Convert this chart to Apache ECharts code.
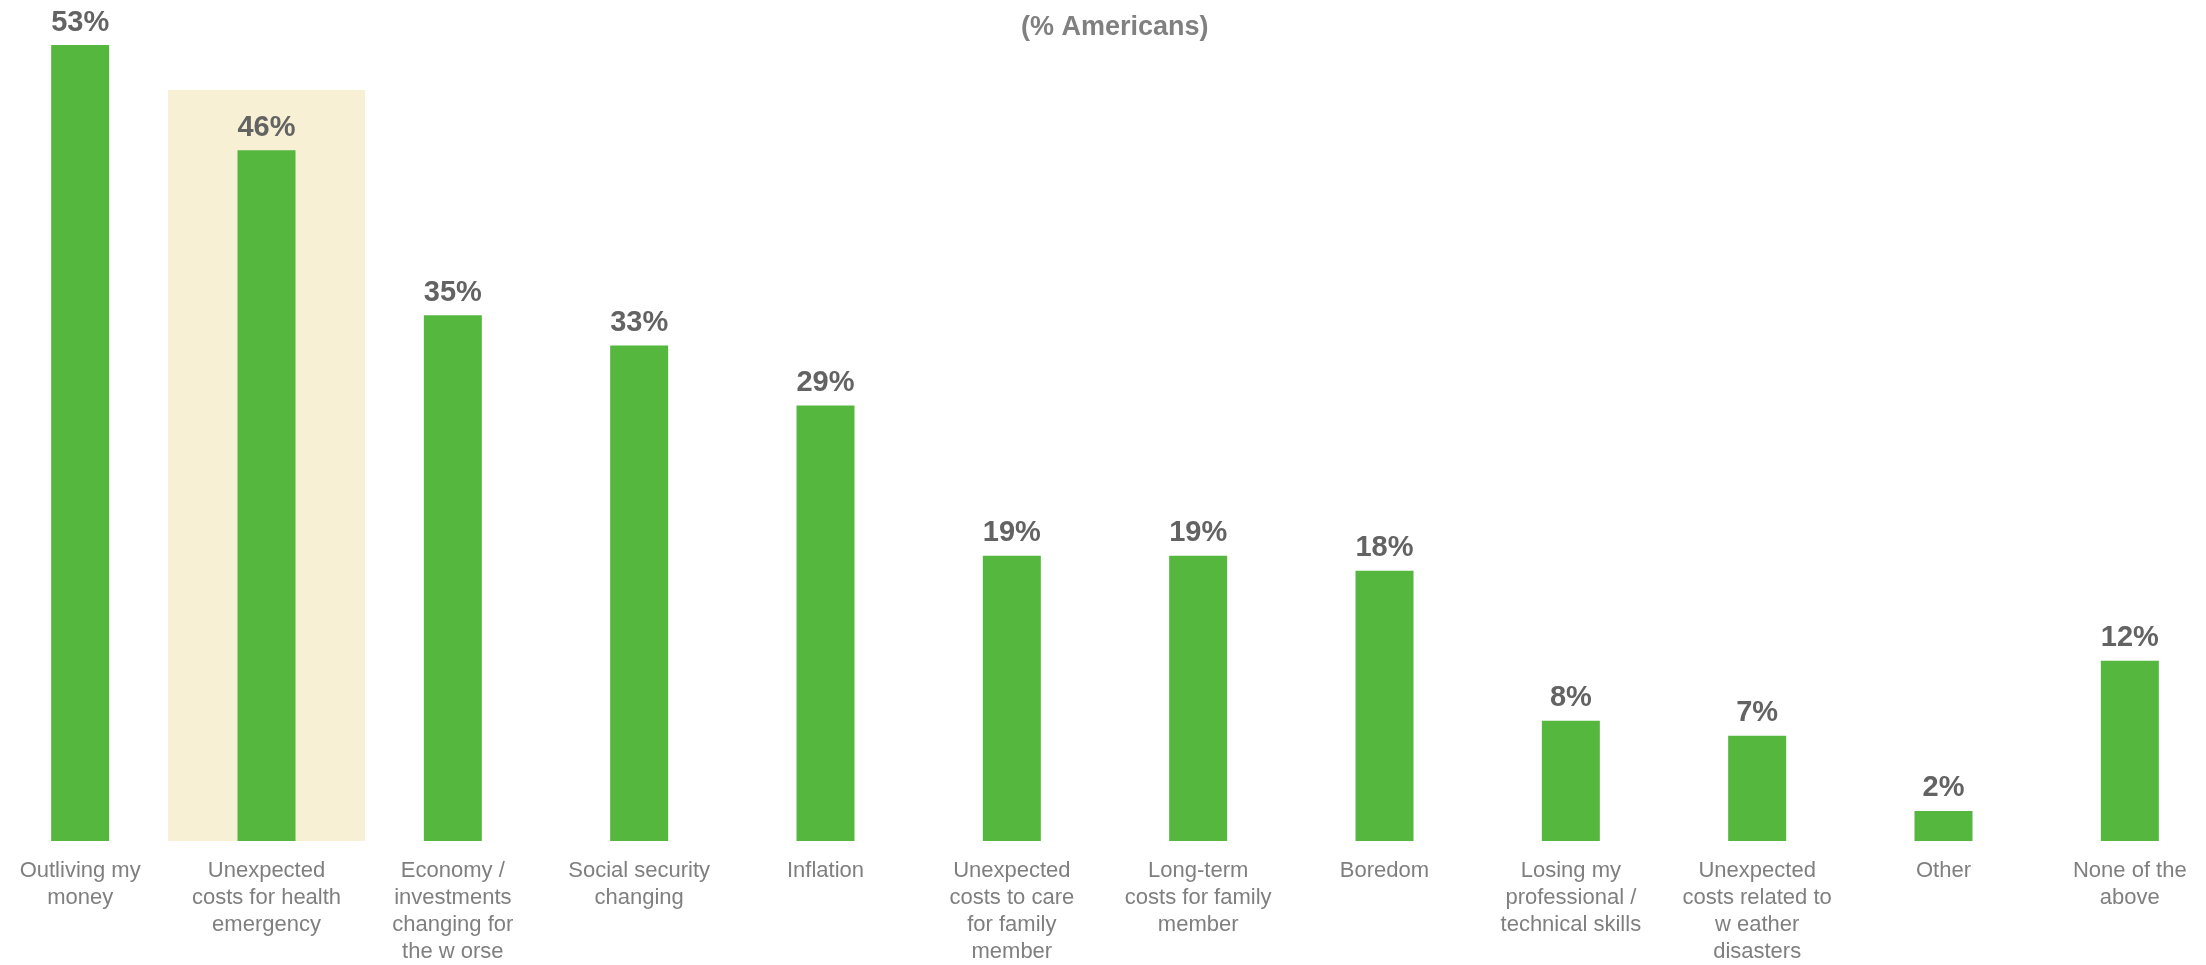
<!DOCTYPE html>
<html>
<head>
<meta charset="utf-8">
<script src="https://cdn.jsdelivr.net/npm/echarts@6/dist/echarts.min.js"></script>
<style>
  html, body { margin: 0; padding: 0; background: #fff; overflow: hidden; }
  /* plot spans a bit past both edges of the page, like the original */
  #chart { width: 2236px; height: 965px; margin-left: -13px; }
</style>
</head>
<body>
<div id="chart"></div>
<script>
// categories, as they wrap in the original
var categories = [
  'Outliving my\nmoney',
  'Unexpected\ncosts for health\nemergency',
  'Economy /\ninvestments\nchanging for\nthe w orse',
  'Social security\nchanging',
  'Inflation',
  'Unexpected\ncosts to care\nfor family\nmember',
  'Long-term\ncosts for family\nmember',
  'Boredom',
  'Losing my\nprofessional /\ntechnical skills',
  'Unexpected\ncosts related to\nw eather\ndisasters',
  'Other',
  'None of the\nabove'
];
var shares = [53, 46, 35, 33, 29, 19, 19, 18, 8, 7, 2, 12];
// highlight panel behind the 2nd category
var highlight = [null, 50, null, null, null, null, null, null, null, null, null, null];

var font = 'Arial, "Liberation Sans", sans-serif';

var myChart = echarts.init(document.getElementById('chart'));
myChart.setOption({
  animation: false,
  title: {
    text: '(% Americans)',
    left: 1029,
    top: 9,
    textStyle: { fontFamily: font, fontSize: 27, fontWeight: 'bold', color: '#808080' }
  },
  grid: { left: 0, right: 0, top: 45, bottom: 120, containLabel: false },
  xAxis: [
    {
      type: 'category',
      data: categories,
      axisLine: { show: false },
      axisTick: { show: false },
      axisLabel: {
        interval: 0,
        margin: 16,
        fontFamily: font,
        fontSize: 22,
        lineHeight: 27,
        color: '#7f7f7f'
      }
    },
    {
      type: 'category',
      data: categories,
      show: false
    }
  ],
  yAxis: {
    type: 'value',
    min: 0,
    max: 53,
    show: false,
    splitLine: { show: false }
  },
  series: [
    {
      type: 'bar',
      xAxisIndex: 1,
      data: highlight,
      barWidth: 197,
      itemStyle: { color: '#F7F0D4' },
      z: 1,
      silent: true
    },
    {
      type: 'bar',
      xAxisIndex: 0,
      data: shares,
      barWidth: 58,
      itemStyle: { color: '#55B73E' },
      z: 2,
      label: {
        show: true,
        position: 'top',
        distance: 8,
        formatter: '{c}%',
        fontFamily: font,
        fontSize: 29,
        fontWeight: 'bold',
        color: '#636363'
      }
    }
  ]
});
</script>
</body>
</html>
